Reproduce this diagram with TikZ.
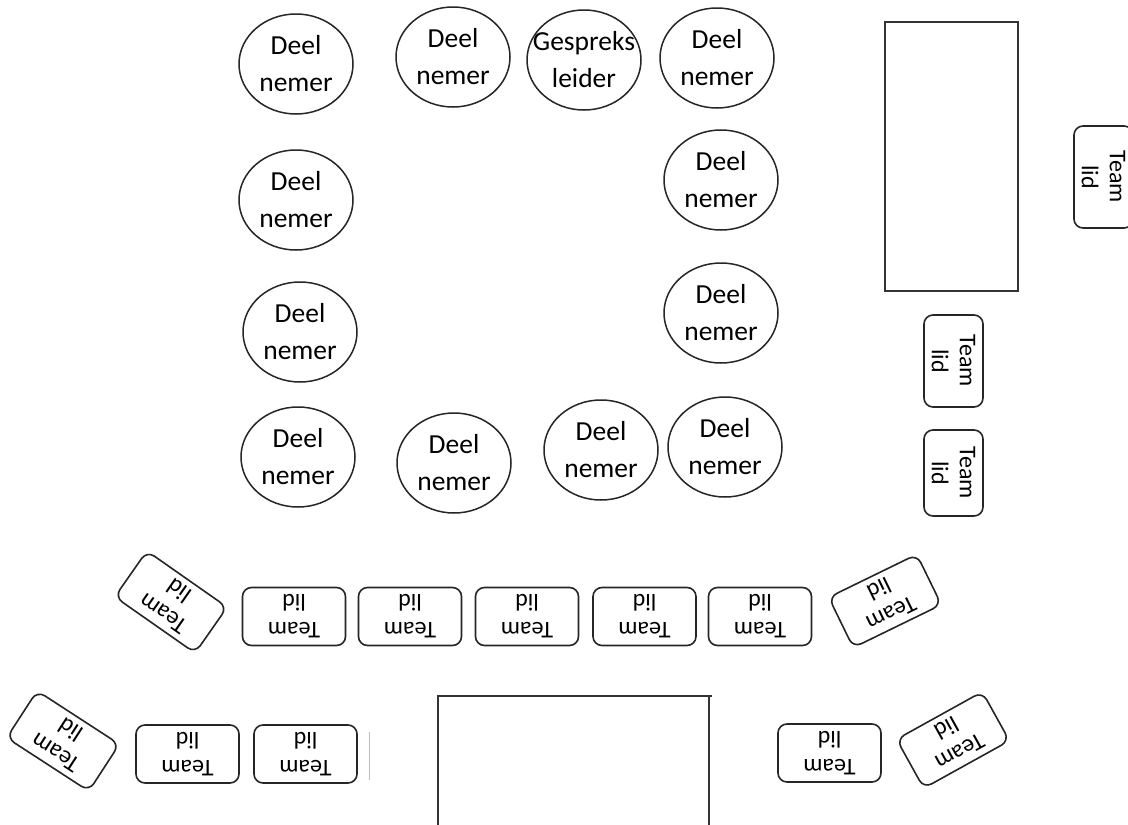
\documentclass[tikz,border=0pt]{standalone}
\usepackage{fontspec}
\setmainfont{Carlito}
\usetikzlibrary{shapes.geometric}
\begin{document}
\begin{tikzpicture}[x=1pt,y=-1pt,
  persoon/.style={draw=black!85,line width=1.5pt,ellipse,minimum width=114pt,minimum height=100pt,inner sep=0pt,align=center,font=\fontsize{27.5}{37}\selectfont},
  teamlid/.style={draw=black!85,line width=1.6pt,rectangle,rounded corners=9pt,minimum width=103pt,minimum height=58pt,inner sep=0pt,align=center,font=\fontsize{24}{28}\selectfont},
  tafel/.style={draw=black!80,line width=1.3pt}]
\clip (0,0) rectangle (1128,825);
\fill[white] (0,0) rectangle (1128,825);
% participants
\node[persoon] (d1) at (296,64) {Deel\\nemer};
\node[persoon] (d2) at (453,57) {Deel\\nemer};
\node[persoon,inner xsep=-14pt,inner ysep=-6pt] (gl) at (584,60) {Gespreks\\leider};
\node[persoon] (d3) at (717,58) {Deel\\nemer};
\node[persoon] (d4) at (296,200) {Deel\\nemer};
\node[persoon] (d5) at (300,332) {Deel\\nemer};
\node[persoon] (d6) at (298,457) {Deel\\nemer};
\node[persoon] (d7) at (721,180) {Deel\\nemer};
\node[persoon] (d8) at (721,313) {Deel\\nemer};
\node[persoon] (d9) at (454,463) {Deel\\nemer};
\node[persoon] (d10) at (601,450) {Deel\\nemer};
\node[persoon] (d11) at (725,447) {Deel\\nemer};
% tables
\draw[tafel] (885,22) rectangle (1018,291);
\draw[tafel] (438,825) -- (438,696) -- (712,696);
\draw[tafel] (709,696) -- (709,825);
\draw[black!25,line width=1pt] (369,732) -- (369,780);
% team members, right side
\node[teamlid,rotate=-90,minimum width=102pt,minimum height=59pt] (t1) at (1103.5,177) {Team\\lid};
\node[teamlid,rotate=-90,minimum width=92pt,minimum height=59pt] (t2) at (953.5,361) {Team\\lid};
\node[teamlid,rotate=-90,minimum width=86pt,minimum height=59pt] (t3) at (953.5,473) {Team\\lid};
% first row
\node[teamlid,rotate=145,minimum width=98pt,minimum height=56pt] (t4) at (171,602) {Team\\lid};
\node[teamlid,rotate=180] (t5) at (294,616.5) {Team\\lid};
\node[teamlid,rotate=180] (t6) at (410,616.5) {Team\\lid};
\node[teamlid,rotate=180] (t7) at (527,616.5) {Team\\lid};
\node[teamlid,rotate=180] (t8) at (644.5,616.5) {Team\\lid};
\node[teamlid,rotate=180] (t9) at (760,616.5) {Team\\lid};
\node[teamlid,rotate=206,minimum width=98pt,minimum height=56pt] (t10) at (885,601) {Team\\lid};
% second row
\node[teamlid,rotate=147,minimum width=98pt,minimum height=56pt] (t11) at (63,741) {Team\\lid};
\node[teamlid,rotate=180] (t12) at (187.5,754) {Team\\lid};
\node[teamlid,rotate=180] (t13) at (305.5,754) {Team\\lid};
\node[teamlid,rotate=180] (t14) at (829.5,753) {Team\\lid};
\node[teamlid,rotate=209,minimum width=98pt,minimum height=56pt] (t15) at (953,740) {Team\\lid};
\end{tikzpicture}
\end{document}
